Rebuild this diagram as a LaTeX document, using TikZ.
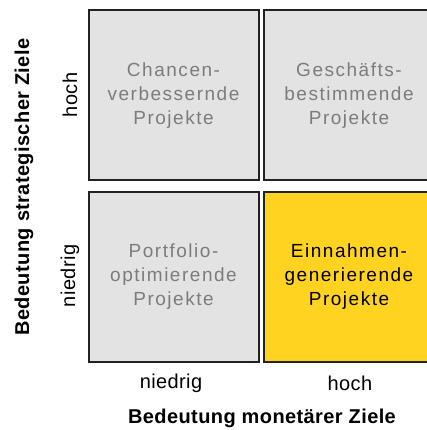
\documentclass[tikz,border=0pt]{standalone}
\usepackage{fontspec}
\setmainfont{Liberation Sans}
\newfontfamily\boxfont[LetterSpace=8]{Liberation Sans}
\newfontfamily\axisfont[LetterSpace=2]{Liberation Sans}
\definecolor{boxgray}{HTML}{E3E3E3}
\definecolor{boxtext}{HTML}{7C7C7C}
\definecolor{hiyellow}{HTML}{FFD320}
\definecolor{edge}{HTML}{222222}
\begin{document}
\begin{tikzpicture}[x=1pt,y=-1pt,
  quad/.style={draw=edge,line width=2pt,minimum width=170pt,minimum height=170pt,inner sep=0pt,
    align=center,font=\boxfont\fontsize{19}{24}\selectfont},
  grayquad/.style={quad,fill=boxgray,text=boxtext},
  yellowquad/.style={quad,fill=hiyellow,text=black},
  ticklabel/.style={font=\axisfont\fontsize{20}{24}\selectfont,inner sep=0pt},
  axislabel/.style={font=\axisfont\bfseries\fontsize{20}{24}\selectfont,inner sep=0pt}]
\useasboundingbox (0,0) rectangle (427,430);
\begin{scope}
\clip (0,0) rectangle (427,430);
\node[grayquad] (q11) at (173.5,95.5) {Chancen-\\verbessernde\\Projekte};
\node[grayquad] (q12) at (349,95.5) {Geschäfts-\\bestimmende\\Projekte};
\node[grayquad] (q21) at (173.5,276.5) {Portfolio-\\optimierende\\Projekte};
\node[yellowquad] (q22) at (349,276.5) {Einnahmen-\\generierende\\Projekte};
\end{scope}
\node[ticklabel] (xlo) at (171,383) {niedrig};
\node[ticklabel] (xhi) at (350,383) {hoch};
\node[ticklabel,rotate=90] (yhi) at (70,95) {hoch};
\node[ticklabel,rotate=90] (ylo) at (70,276) {niedrig};
\node[axislabel] (xlab) at (262,418) {Bedeutung monetärer Ziele};
\node[axislabel,rotate=90] (ylab) at (24,187) {Bedeutung strategischer Ziele};
\end{tikzpicture}
\end{document}
